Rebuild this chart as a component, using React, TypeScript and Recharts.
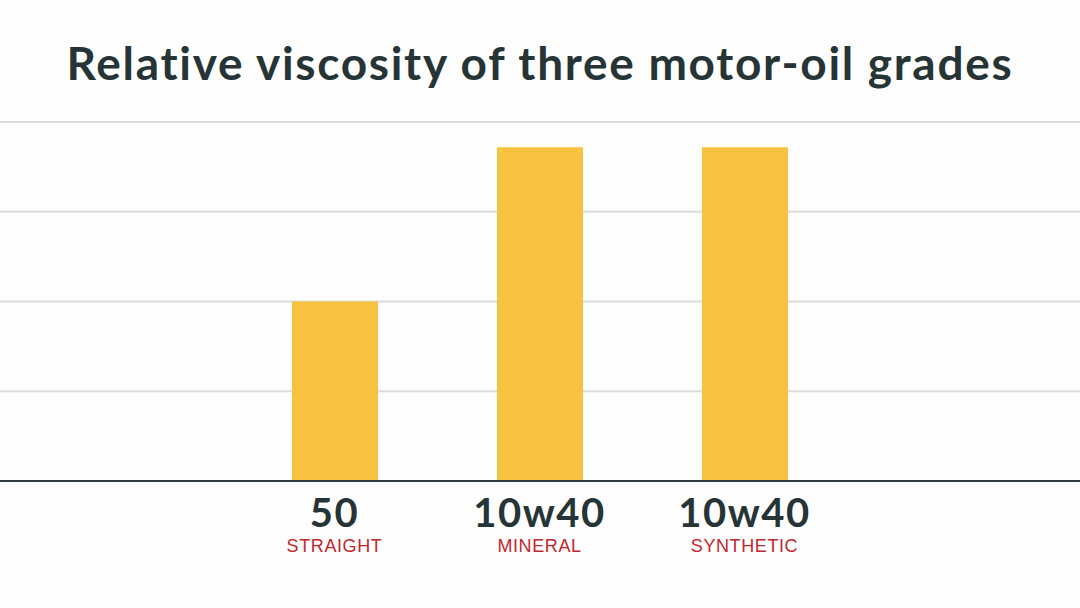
import { BarChart, Bar, XAxis, YAxis, CartesianGrid } from 'recharts'

const grades = ['50', '10w40', '10w40']
const kinds = ['STRAIGHT', 'MINERAL', 'SYNTHETIC']
const viscosity = [2, 3.72, 3.72]
const yTicks = [0, 1, 2, 3, 4]

const data = grades.map((g, i) => ({ grade: g, kind: kinds[i], value: viscosity[i] }))

const TITLE_COLOR = '#263436'
const BAR_COLOR = '#f7c240'
const RED = '#c1272d'

function GradeTick(props: any) {
  const { x, y, index } = props
  return (
    <g>
      <text
        x={x}
        y={y + 38}
        textAnchor="middle"
        fontFamily="Lato, sans-serif"
        fontWeight={700}
        fontSize={40}
        letterSpacing={1.5}
        fill={TITLE_COLOR}
      >
        {grades[index]}
      </text>
      <text
        x={x}
        y={y + 63}
        textAnchor="middle"
        fontFamily="Liberation Sans, Arial, sans-serif"
        fontSize={18}
        letterSpacing={0.6}
        fill={RED}
      >
        {kinds[index]}
      </text>
    </g>
  )
}

export default function App() {
  return (
    <div
      style={{
        position: 'absolute',
        left: 0,
        top: 0,
        width: 1080,
        height: 608,
        background: '#fdfdfd',
      }}
    >
      <div
        style={{
          position: 'absolute',
          left: 0,
          top: 35,
          width: 1080,
          textAlign: 'center',
          fontFamily: 'Lato, sans-serif',
          fontWeight: 700,
          fontSize: 46,
          color: TITLE_COLOR,
          letterSpacing: 1.7,
        }}
      >
        Relative viscosity of three motor-oil grades
      </div>
      <BarChart
        width={1080}
        height={608}
        data={data}
        margin={{ top: 122, right: 0, left: 0, bottom: 0 }}
        style={{ position: 'absolute', left: 0, top: 0 }}
      >
        <CartesianGrid vertical={false} stroke="#dcdcdc" strokeWidth={2} />
        <YAxis hide domain={[0, 4]} ticks={yTicks} />
        <XAxis
          dataKey="grade"
          height={127}
          padding={{ left: 232, right: 233 }}
          axisLine={{ stroke: '#2f3b3f', strokeWidth: 2 }}
          tickLine={false}
          interval={0}
          tick={<GradeTick />}
        />
        <Bar dataKey="value" fill={BAR_COLOR} barSize={86} isAnimationActive={false} />
      </BarChart>
    </div>
  )
}
